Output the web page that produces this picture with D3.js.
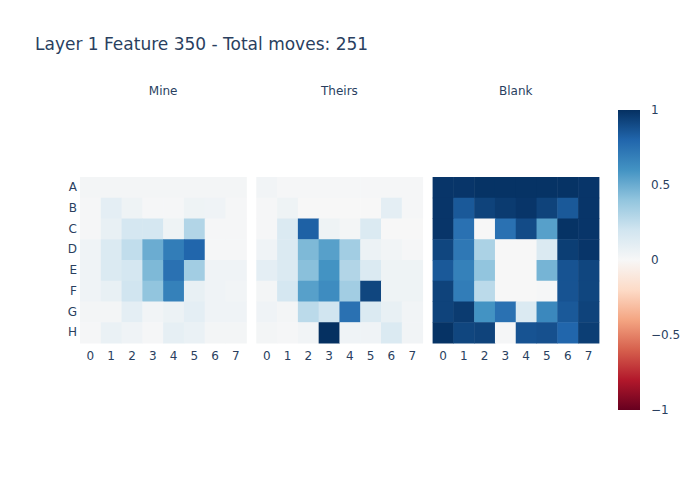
<!DOCTYPE html>
<html><head><meta charset="utf-8">
<script src="https://cdn.jsdelivr.net/npm/d3@7"></script>
<style>body{margin:0;background:#fff}svg{font-family:"DejaVu Sans",verdana,arial,sans-serif}</style>
</head><body><svg id="c" width="700" height="500"></svg>
<script>
const titleText = "Layer 1 Feature 350 - Total moves: 251";
const panels = ["Mine", "Theirs", "Blank"];
const rowLabels = ["A","B","C","D","E","F","G","H"];
const colLabels = ["0","1","2","3","4","5","6","7"];
const cbTicks = [1, 0.5, 0, -0.5, -1];
const mine = [
 [0.02,0.02,0.02,0.02,0.02,0.02,0.02,0.02],
 [0.01,0.10,0.05,0.01,0.01,0.05,0.04,0.01],
 [0.01,0.08,0.18,0.18,0.05,0.30,0.01,0.01],
 [0.04,0.15,0.25,0.50,0.70,0.80,0.01,0.01],
 [0.04,0.15,0.18,0.45,0.75,0.35,0.04,0.04],
 [0.04,0.08,0.20,0.40,0.68,0.08,0.04,0.03],
 [0.02,0.02,0.10,0.03,0.06,0.10,0.04,0.04],
 [0.01,0.07,0.04,0.01,0.09,0.07,0.02,0.02]
];
const theirs = [
 [0.03,0.01,0.01,0.01,0.01,0.01,0.01,0.01],
 [0.01,0.05,0.00,0.00,0.00,0.00,0.10,0.01],
 [0.01,0.15,0.82,0.05,0.02,0.15,0.00,0.00],
 [0.04,0.15,0.45,0.55,0.35,0.06,0.03,0.01],
 [0.10,0.15,0.42,0.60,0.30,0.15,0.05,0.05],
 [0.02,0.18,0.55,0.63,0.35,0.92,0.05,0.05],
 [0.04,0.02,0.27,0.20,0.75,0.15,0.08,0.03],
 [0.02,0.01,0.03,1.00,0.04,0.04,0.15,0.03]
];
const blank = [
 [0.98,0.98,0.99,0.99,0.99,0.99,0.99,0.98],
 [0.98,0.85,0.93,0.96,0.98,0.93,0.85,0.98],
 [0.98,0.75,0.00,0.75,0.90,0.55,0.99,0.98],
 [0.92,0.72,0.32,0.00,0.00,0.15,0.95,0.98],
 [0.85,0.68,0.40,0.00,0.00,0.47,0.87,0.92],
 [0.93,0.70,0.27,0.00,0.00,0.01,0.87,0.92],
 [0.93,0.96,0.60,0.75,0.15,0.65,0.85,0.93],
 [0.99,0.92,0.93,0.01,0.87,0.88,0.80,0.95]
];
const rdbu = ["rgb(103,0,31)","rgb(178,24,43)","rgb(214,96,77)","rgb(244,165,130)","rgb(253,219,199)","rgb(247,247,247)","rgb(209,229,240)","rgb(146,197,222)","rgb(67,147,195)","rgb(33,102,172)","rgb(5,48,97)"];

const svg = d3.select("#c");
const txt = "#2a3f5f";
const color = d3.scaleLinear().domain(d3.range(11).map(i => -1 + i*0.2)).range(rdbu).interpolate(d3.interpolateRgb).clamp(true);

svg.append("text").attr("x",35).attr("y",50).attr("font-size",17).attr("fill",txt).text(titleText);

function styleAxis(a) {
  a.attr("font-family", null).attr("font-size", null);
  a.select(".domain").remove();
  a.selectAll("text").attr("font-size",12).attr("fill",txt);
}

const datasets = [mine, theirs, blank];
const left0 = 80, pw = 166.3, gap = 10, ptop = 177, ph = 166;
panels.forEach((p, k) => {
  const x0 = left0 + k*(pw+gap);
  const x = d3.scaleBand().domain(colLabels).range([x0, x0+pw]).padding(0);
  const y = d3.scaleBand().domain(rowLabels).range([ptop, ptop+ph]).padding(0);
  const g = svg.append("g");
  const cells = [];
  datasets[k].forEach((row, i) => row.forEach((v, j) => cells.push({r: rowLabels[i], c: colLabels[j], v})));
  g.selectAll("rect").data(cells).join("rect")
    .attr("x", d => x(d.c)).attr("y", d => y(d.r))
    .attr("width", x.bandwidth()+0.5).attr("height", y.bandwidth()+0.5)
    .attr("fill", d => color(d.v));
  const xa = svg.append("g").attr("transform",`translate(0,${ptop+ph+1})`)
    .call(d3.axisBottom(x).tickSize(0).tickPadding(7));
  styleAxis(xa);
  if (k === 0) {
    const ya = svg.append("g").attr("transform",`translate(${x0-1},0)`)
      .call(d3.axisLeft(y).tickSize(0).tickPadding(2));
    styleAxis(ya);
  }
  svg.append("text").attr("x", x0 + pw/2).attr("y", 95).attr("text-anchor","middle")
    .attr("font-size",12).attr("fill",txt).text(p);
});

// colorbar
const cbX = 618, cbW = 22, cbTop = 110, cbBot = 410;
const cy = d3.scaleLinear().domain([-1,1]).range([cbBot, cbTop]);
const defs = svg.append("defs");
const grad = defs.append("linearGradient").attr("id","cb").attr("x1",0).attr("y1",1).attr("x2",0).attr("y2",0);
grad.selectAll("stop").data(d3.range(11)).join("stop")
  .attr("offset", i => i/10).attr("stop-color", i => rdbu[i]);
svg.append("rect").attr("x",cbX).attr("y",cbTop).attr("width",cbW).attr("height",cbBot-cbTop).attr("fill","url(#cb)");
const ca = svg.append("g").attr("transform",`translate(${cbX+cbW},0)`)
  .call(d3.axisRight(cy).tickValues(cbTicks).tickSize(0).tickPadding(11).tickFormat(d => d3.format("")(d).replace("-","\u2212")));
styleAxis(ca);
</script></body></html>
